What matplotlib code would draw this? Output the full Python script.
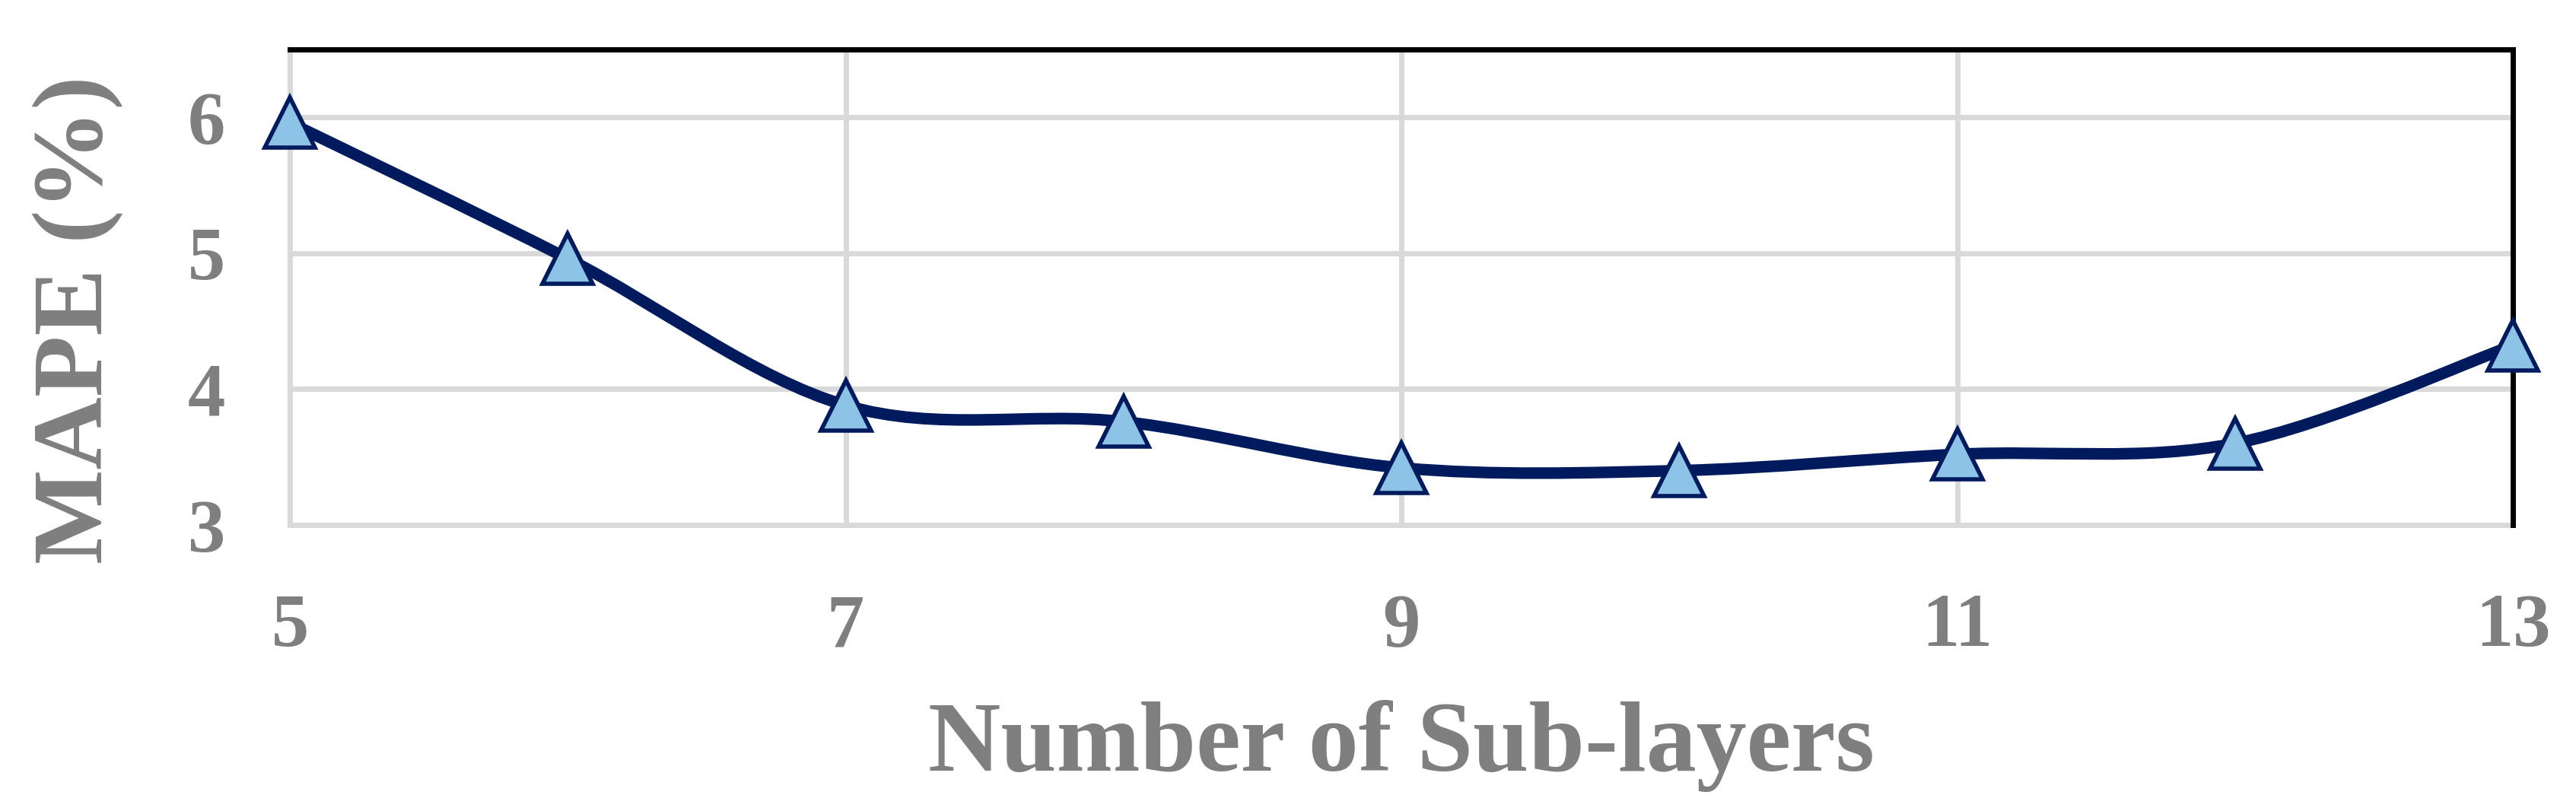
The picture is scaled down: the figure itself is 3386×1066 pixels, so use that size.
import numpy as np
import matplotlib
matplotlib.use("Agg")
import matplotlib.pyplot as plt
from matplotlib.path import Path
from matplotlib.patches import PathPatch

# ---- data ----
sub_layers = [5, 6, 7, 8, 9, 10, 11, 12, 13]
mape = [5.96, 4.96, 3.88, 3.76, 3.42, 3.40, 3.52, 3.60, 4.32]
x_ticks = [5, 7, 9, 11, 13]
y_ticks = [3, 4, 5, 6]
x_label = "Number of Sub-layers"
y_label = "MAPE (%)"

LINE_C = "#001A5E"
FACE_C = "#8DC3E7"
TEXT_C = "#7F7F7F"
GRID_C = "#D9D9D9"
FONT = "Liberation Serif"

fig = plt.figure(figsize=(33.86, 10.66), dpi=100)
ax = fig.add_axes([381 / 3386, 1 - 690 / 1066, (3303 - 381) / 3386, (690 - 65) / 1066])
ax.set_xlim(5, 13)
ax.set_ylim(3, 6.5)

# grid lines (manual, unclipped so edge lines are full width)
for xv in x_ticks[:-1]:
    ax.axvline(xv, color=GRID_C, lw=5, zorder=0.5, clip_on=False)
for yv in y_ticks:
    ax.axhline(yv, color=GRID_C, lw=5, zorder=0.5, clip_on=False)

# spines
ax.spines["left"].set_visible(False)
ax.spines["bottom"].set_visible(False)
for s in ("top", "right"):
    ax.spines[s].set_color("black")
    ax.spines[s].set_linewidth(5)
    ax.spines[s].set_zorder(2.5)

# smoothed line (Catmull-Rom style Bezier, as Excel's smooth line)
P = np.column_stack([sub_layers, mape]).astype(float)
n = len(P)
verts = [tuple(P[0])]
codes = [Path.MOVETO]
for i in range(n - 1):
    p0 = P[i - 1] if i > 0 else P[i]
    p1 = P[i]
    p2 = P[i + 1]
    p3 = P[i + 2] if i + 2 < n else P[i + 1]
    c1 = p1 + (p2 - p0) / 6.0
    c2 = p2 - (p3 - p1) / 6.0
    verts += [tuple(c1), tuple(c2), tuple(p2)]
    codes += [Path.CURVE4] * 3
patch = PathPatch(Path(verts, codes), facecolor="none", edgecolor=LINE_C,
                  lw=11, zorder=3, clip_on=False, capstyle="round", joinstyle="round")
ax.add_patch(patch)

ax.plot(sub_layers, mape, linestyle="none", marker="^", markersize=47,
        markerfacecolor=FACE_C, markeredgecolor=LINE_C, markeredgewidth=4,
        zorder=4, clip_on=False)

ax.set_xticks(x_ticks)
ax.set_yticks(y_ticks)
ax.tick_params(axis="both", length=0)
ax.tick_params(axis="x", pad=65)
ax.tick_params(axis="y", pad=61)
for lab in ax.get_xticklabels() + ax.get_yticklabels():
    lab.set_fontfamily(FONT)
    lab.set_fontweight("bold")
    lab.set_fontsize(71)
    lab.set_color(TEXT_C)

fig.text((381 + 3303) / 2 / 3386, 1 - 1013 / 1066, x_label, ha="center", va="baseline",
         fontfamily=FONT, fontweight="bold", fontsize=95, color=TEXT_C)
fig.text(134 / 3386, 1 - 420 / 1066, y_label, rotation=90, rotation_mode="anchor",
         ha="center", va="baseline",
         fontfamily=FONT, fontweight="bold", fontsize=95, color=TEXT_C)

fig.savefig("out.png", dpi=100, facecolor="white")
